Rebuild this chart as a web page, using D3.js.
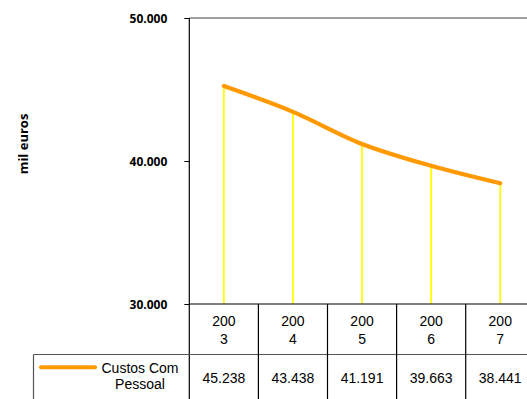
<!DOCTYPE html>
<html><head><meta charset="utf-8">
<script src="https://cdn.jsdelivr.net/npm/d3@7"></script>
<style>body{margin:0;background:#fff}svg{display:block}</style>
</head><body>
<svg id="c" width="527" height="399"></svg>
<script>
const categories = ["2003","2004","2005","2006","2007"];
const values = [45238, 43438, 41191, 39663, 38441];
const valueLabels = ["45.238","43.438","41.191","39.663","38.441"];
const yTicks = [30000, 40000, 50000];
const yTickLabels = ["30.000","40.000","50.000"];
const seriesName = ["Custos Com","Pessoal"];
const yTitle = "mil euros";

(function(){
const svg = d3.select("#c");
const pLeft = 189.3, pTop = 18, pBottom = 304, bw = 69.1;
const x = d3.scaleBand().domain(categories).range([pLeft, pLeft + bw*categories.length]).padding(0);
const y = d3.scaleLinear().domain([30000, 50000]).range([pBottom, pTop]);

svg.append("line").attr("x1", pLeft).attr("x2", 527).attr("y1", pTop).attr("y2", pTop)
  .attr("stroke", "#808080").attr("stroke-width", 1.3);

const ya = svg.append("g").attr("transform", `translate(${pLeft},0)`)
  .call(d3.axisLeft(y).tickValues(yTicks).tickSize(5).tickFormat((d,i)=>yTickLabels[i]));
ya.select(".domain").remove();
ya.selectAll(".tick line").attr("stroke", "#000");
ya.selectAll("text").attr("x", -22).attr("dy", "0.35em")
  .attr("font-family", "Open Sans").attr("font-weight", 700).attr("font-size", 12).attr("fill", "#000");
svg.append("line").attr("x1", pLeft).attr("x2", pLeft).attr("y1", pTop).attr("y2", 399)
  .attr("stroke", "#000").attr("stroke-width", 1.2);

svg.append("text").attr("transform", `translate(28,144) rotate(-90)`).attr("text-anchor", "middle")
  .attr("font-family", "Open Sans").attr("font-weight", 700).attr("font-size", 13).text(yTitle);

svg.append("g").selectAll("line").data(values).join("line")
  .attr("x1", (d,i)=>x(categories[i]) + bw/2).attr("x2", (d,i)=>x(categories[i]) + bw/2)
  .attr("y1", d=>y(d)).attr("y2", pBottom)
  .attr("stroke", "#FFFF00").attr("stroke-width", 1.8);

const line = d3.line().x((d,i)=>x(categories[i]) + bw/2).y(d=>y(d)).curve(d3.curveCatmullRom.alpha(0.5));
svg.append("path").datum(values).attr("d", line).attr("fill", "none")
  .attr("stroke", "#FF9900").attr("stroke-width", 4.2).attr("stroke-linecap", "round");

svg.append("line").attr("x1", pLeft).attr("x2", 527).attr("y1", pBottom).attr("y2", pBottom)
  .attr("stroke", "#000").attr("stroke-width", 1.2);

const tbl = svg.append("g");
const rowY = 354.5;
tbl.append("line").attr("x1", 33.5).attr("x2", 527).attr("y1", rowY).attr("y2", rowY).attr("stroke", "#555").attr("stroke-width", 1.2);
tbl.append("line").attr("x1", 33.5).attr("x2", 33.5).attr("y1", rowY).attr("y2", 399).attr("stroke", "#555").attr("stroke-width", 1.2);
categories.forEach((c,i)=>{
  if (i>0) tbl.append("line").attr("x1", x(c)).attr("x2", x(c)).attr("y1", pBottom).attr("y2", 399).attr("stroke", "#000").attr("stroke-width", 1.2);
  const cx = x(c) + bw/2;
  const t = tbl.append("text").attr("text-anchor", "middle").attr("font-family", "Liberation Sans").attr("font-size", 14).attr("fill", "#000");
  t.append("tspan").attr("x", cx).attr("y", 326).text(c.slice(0,3));
  t.append("tspan").attr("x", cx).attr("y", 344).text(c.slice(3));
  tbl.append("text").attr("x", cx).attr("y", 383).attr("text-anchor", "middle").attr("font-family", "Liberation Sans").attr("font-size", 14).text(valueLabels[i]);
});
tbl.append("line").attr("x1", 41).attr("x2", 95).attr("y1", 367.3).attr("y2", 367.3).attr("stroke", "#FF9900").attr("stroke-width", 4).attr("stroke-linecap", "round");
const lt = tbl.append("text").attr("text-anchor", "middle").attr("font-family", "Liberation Sans").attr("font-size", 14);
lt.append("tspan").attr("x", 140).attr("y", 373).text(seriesName[0]);
lt.append("tspan").attr("x", 140).attr("y", 389).text(seriesName[1]);
})();
</script>
</body></html>
